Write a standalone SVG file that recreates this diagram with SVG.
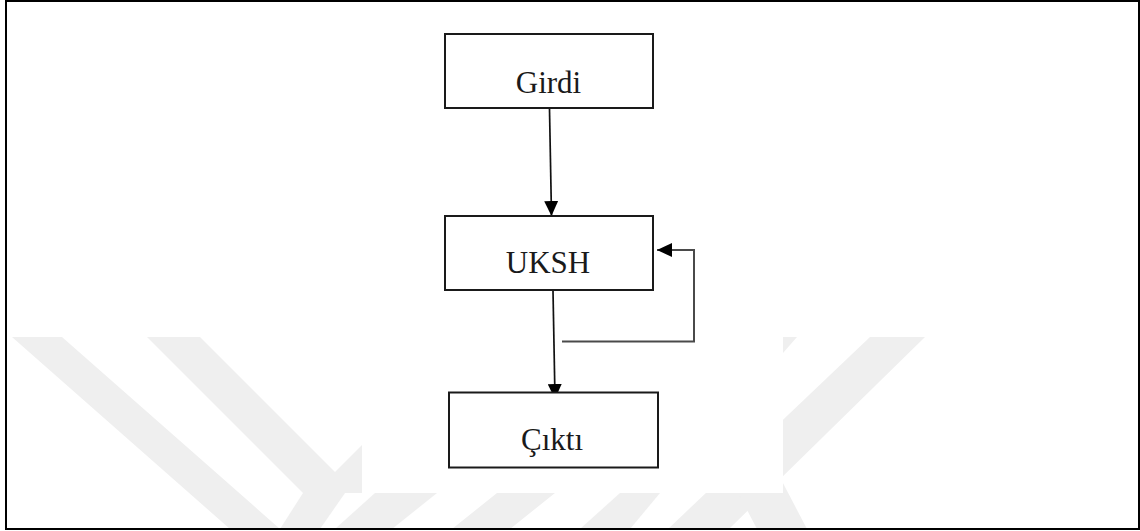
<svg xmlns="http://www.w3.org/2000/svg" width="1140" height="531" viewBox="0 0 1140 531">
<style>
.wm{fill:#efefef;stroke:none}
.box{fill:#ffffff;stroke:#1a1a1a;stroke-width:2}
.lbl{font-family:"Liberation Serif","Times New Roman",serif;font-size:31px;fill:#1a1a1a;text-anchor:middle}
.conn{fill:none;stroke:#111;stroke-width:1.7}
.fb{fill:none;stroke:#4a4a4a;stroke-width:2}
</style>
<defs>
<marker id="ah" markerUnits="userSpaceOnUse" markerWidth="16" markerHeight="14" refX="15" refY="7" orient="auto">
<path d="M0,0 L15,7 L0,14 z" fill="#000"/>
</marker>
</defs>
<rect x="0" y="0" width="1140" height="531" fill="#ffffff"/>
<g id="watermark">
<polygon class="wm" points="12,337 62,337 280,529 230,529"/>
<polygon class="wm" points="147,337 200,337 335,472 362,445 362,493 303,493"/>
<polygon class="wm" points="303,493 345,493 320,529 280,529"/>
<polygon class="wm" points="375,493 437,493 392,529 335,529"/>
<polygon class="wm" points="497,493 555,493 510,529 452,529"/>
<polygon class="wm" points="620,493 660,493 630,529 580,529"/>
<polygon class="wm" points="870,337 925,337 729,529 668,529"/>
<polygon class="wm" points="700,420 750,420 807,529 757,529"/>
<polygon class="wm" points="745,337 797,337 783,353 770,353"/>
<rect x="362" y="320" width="421" height="173" fill="#ffffff"/>
</g>
<rect id="frame" x="6" y="1" width="1133" height="528" fill="none" stroke="#000" stroke-width="2"/>
<g id="connectors">
<line class="conn" x1="549.5" y1="109" x2="551.5" y2="216" marker-end="url(#ah)"/>
<line class="conn" x1="553" y1="291" x2="555" y2="399" marker-end="url(#ah)"/>
<polyline class="fb" points="562,341.5 694,341.5 694,250 657,250" marker-end="url(#ah)"/>
</g>
<g id="node-girdi">
<rect class="box" x="445" y="34" width="208" height="74"/>
<text class="lbl" x="548.5" y="92.5">Girdi</text>
</g>
<g id="node-uksh">
<rect class="box" x="445" y="216" width="208" height="74"/>
<text class="lbl" x="548" y="272.5">UKSH</text>
</g>
<g id="node-cikti">
<rect class="box" x="449" y="392.5" width="209" height="75"/>
<text class="lbl" x="552" y="450">Çıktı</text>
</g>
</svg>
